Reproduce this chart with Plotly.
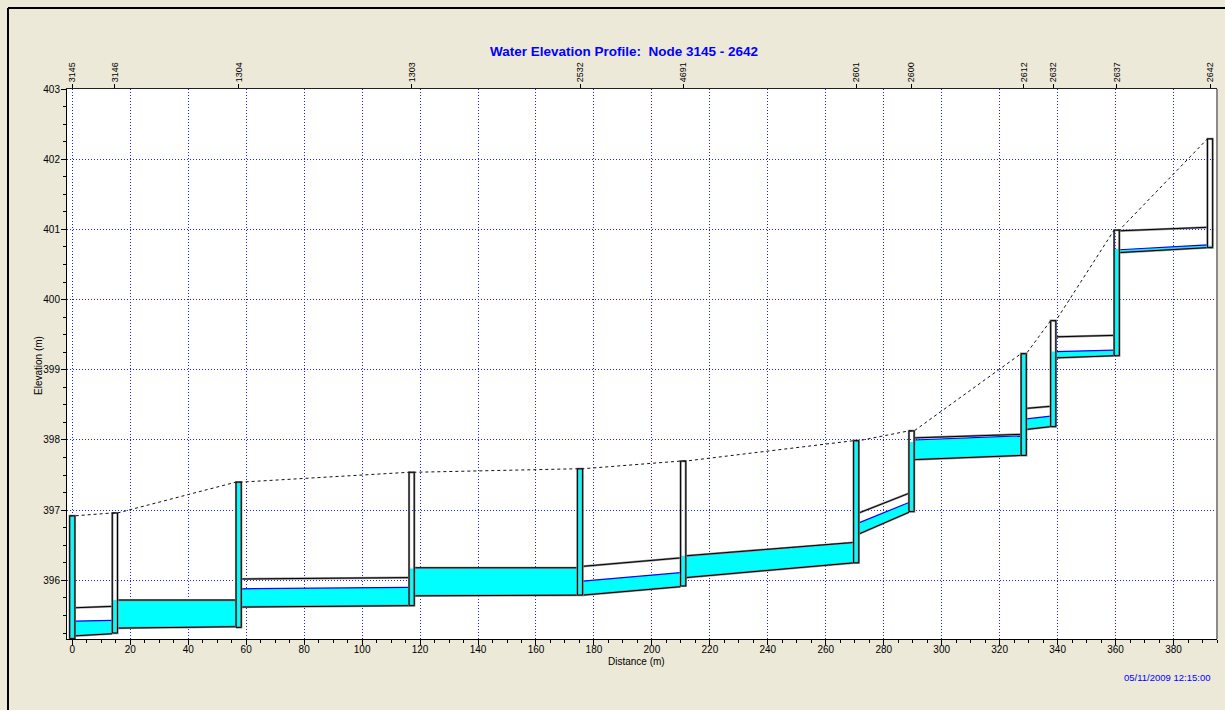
import plotly.graph_objects as go

# ---- profile data (distance in m, elevations in m) ----
node_ids = ["3145", "3146", "1304", "1303", "2532", "4691",
            "2601", "2600", "2612", "2632", "2637", "2642"]
node_dist = [0.0, 14.7, 57.4, 117.1, 175.2, 210.8,
             270.5, 289.6, 328.3, 338.5, 360.4, 392.6]
node_invert = [395.17, 395.25, 395.33, 395.64, 395.79, 395.92,
               396.25, 396.98, 397.78, 398.19, 399.20, 400.74]
node_rim = [396.92, 396.96, 397.40, 397.54, 397.59, 397.70,
            397.99, 398.13, 399.23, 399.70, 400.99, 402.29]
node_head = [396.92, 395.72, 397.40, 396.17, 397.59, 396.35,
             397.99, 397.97, 399.23, 399.26, 400.72, 400.77]

# conduits between consecutive nodes (upstream / downstream ends)
link_inv_up = [395.21, 395.32, 395.62, 395.78, 395.79, 396.04,
               396.66, 397.72, 398.15, 399.17, 400.67]
link_inv_dn = [395.24, 395.34, 395.64, 395.79, 395.91, 396.25,
               396.97, 397.78, 398.19, 399.20, 400.74]
link_crown_up = [395.61, 395.72, 396.02, 396.18, 396.20, 396.35,
                 396.96, 398.03, 398.45, 399.47, 400.98]
link_crown_dn = [395.63, 395.72, 396.04, 396.18, 396.32, 396.54,
                 397.24, 398.08, 398.48, 399.49, 401.03]
link_wl_up = [395.42, 395.72, 395.88, 396.18, 395.99, 396.35,
              396.82, 398.00, 398.30, 399.26, 400.71]
link_wl_dn = [395.43, 395.72, 395.90, 396.18, 396.11, 396.54,
              397.11, 398.06, 398.34, 399.28, 400.78]

title_text = "Water Elevation Profile:\u00a0 Node 3145 - 2642"
stamp_text = "05/11/2009 12:15:00"

# ---- styling ----
BOX_W = 1.8           # manhole box width (m)
WATER = "#00FFFF"
FONT = "Liberation Sans, Arial, sans-serif"
BG = "#ECE9D8"
GRID = "#2020FF"

fig = go.Figure()


def outline(x, y):
    """Dark pipe/manhole edge: grey halo under a thin black stroke."""
    fig.add_trace(go.Scatter(x=x, y=y, mode="lines",
                             line=dict(color="#8C8C8C", width=2.2),
                             hoverinfo="skip", showlegend=False))
    fig.add_trace(go.Scatter(x=x, y=y, mode="lines",
                             line=dict(color="#000000", width=1),
                             hoverinfo="skip", showlegend=False))


# conduits
for i in range(len(link_inv_up)):
    x0 = node_dist[i] + BOX_W / 2
    x1 = node_dist[i + 1] - BOX_W / 2
    fig.add_trace(go.Scatter(
        x=[x0, x1, x1, x0, x0],
        y=[link_inv_up[i], link_inv_dn[i], link_wl_dn[i], link_wl_up[i], link_inv_up[i]],
        mode="none", fill="toself", fillcolor=WATER,
        hoverinfo="skip", showlegend=False))
    fig.add_trace(go.Scatter(
        x=[x0, x1], y=[link_wl_up[i], link_wl_dn[i]], mode="lines",
        line=dict(color="#0000FF", width=1.2), hoverinfo="skip", showlegend=False))
    outline([x0, x1], [link_crown_up[i], link_crown_dn[i]])
    outline([x0, x1], [link_inv_up[i], link_inv_dn[i]])

# manholes
for i in range(len(node_ids)):
    xa = node_dist[i] - BOX_W / 2
    xb = node_dist[i] + BOX_W / 2
    fig.add_trace(go.Scatter(
        x=[xa, xb, xb, xa, xa],
        y=[node_invert[i], node_invert[i], node_head[i], node_head[i], node_invert[i]],
        mode="none", fill="toself", fillcolor=WATER,
        hoverinfo="skip", showlegend=False))
    outline([xa, xb, xb, xa, xa],
            [node_invert[i], node_invert[i], node_rim[i], node_rim[i], node_invert[i]])

# ground surface (rim elevations), drawn on the top node-label axis
gx, gy = [], []
for d, r in zip(node_dist, node_rim):
    gx += [d - BOX_W / 2, d + BOX_W / 2]
    gy += [r, r]
fig.add_trace(go.Scatter(x=gx, y=gy, mode="lines", xaxis="x2",
                         line=dict(color="#111111", width=1, dash="3px,3px"),
                         hoverinfo="skip", showlegend=False))

# ---- layout geometry (pixels) ----
W, H = 1225, 710
L, R, T, B = 67, 8, 89, 71
PW, PH = W - L - R, H - T - B


def px_x(p):
    return (p - L) / PW


def px_y(p):
    return (H - B - p) / PH


xr = [-1.83, 395.0]
tickfont = dict(family=FONT, size=10, color="black")

fig.update_layout(
    width=W, height=H, autosize=False,
    margin=dict(l=L, r=R, t=T, b=B, autoexpand=False),
    paper_bgcolor=BG, plot_bgcolor="white",
    showlegend=False,
    title=dict(text=title_text, x=624 / W, xref="container", xanchor="center",
               y=1 - 51 / H, yref="container", yanchor="middle",
               font=dict(family=FONT, size=13.5, color="#0000FF", weight="bold")),
    xaxis=dict(range=xr, tick0=0, dtick=20, showgrid=True, gridcolor=GRID,
               griddash="1px,2px", gridwidth=1, zeroline=False,
               showline=True, linecolor="black", linewidth=1,
               ticks="outside", ticklen=5, tickcolor="black", tickfont=tickfont,
               ticklabelstandoff=-4,
               minor=dict(dtick=5, ticks="outside", ticklen=3, tickcolor="black",
                          showgrid=False)),
    xaxis2=dict(range=xr, overlaying="x", side="top", tickmode="array",
                tickvals=node_dist, ticktext=node_ids, tickangle=-90,
                showgrid=False, zeroline=False, showline=True,
                linecolor="#202020", linewidth=1,
                ticks="outside", ticklen=4, tickcolor="black",
                tickfont=dict(family=FONT, size=9, color="black")),
    yaxis=dict(range=[395.165, 403], tick0=395, dtick=1, showgrid=True,
               gridcolor=GRID, griddash="1px,2px", gridwidth=1, zeroline=False,
               showline=True, linecolor="black", linewidth=1,
               ticks="outside", ticklen=5, tickcolor="black", tickfont=tickfont,
               ticklabelstandoff=-1,
               minor=dict(dtick=0.25, ticks="outside", ticklen=3,
                          tickcolor="black", showgrid=False)),
    annotations=[
        dict(text="Distance (m)", x=px_x(636), y=px_y(661), xref="paper", yref="paper",
             xanchor="center", yanchor="middle", showarrow=False,
             font=dict(family=FONT, size=10, color="black")),
        dict(text="Elevation (m)", x=px_x(38), y=px_y(366), xref="paper", yref="paper",
             xanchor="center", yanchor="middle", textangle=-90, showarrow=False,
             font=dict(family=FONT, size=10, color="black")),
        dict(text=stamp_text, x=px_x(1212), y=px_y(677), xref="paper", yref="paper",
             xanchor="right", yanchor="middle", showarrow=False,
             font=dict(family=FONT, size=9.5, color="#0000FF")),
    ],
    shapes=[
        # window frame
        dict(type="line", xref="paper", yref="paper",
             x0=px_x(8), x1=px_x(8), y0=px_y(8), y1=px_y(H + 5),
             line=dict(color="black", width=2)),
        dict(type="line", xref="paper", yref="paper",
             x0=px_x(8), x1=px_x(W + 5), y0=px_y(8), y1=px_y(8),
             line=dict(color="black", width=2)),
        # right edge of plot panel
        dict(type="line", xref="paper", yref="paper",
             x0=1, x1=1, y0=0, y1=1, line=dict(color="#8A8A8A", width=2)),
    ],
)

fig.write_html("out.html", config={"displayModeBar": False})
